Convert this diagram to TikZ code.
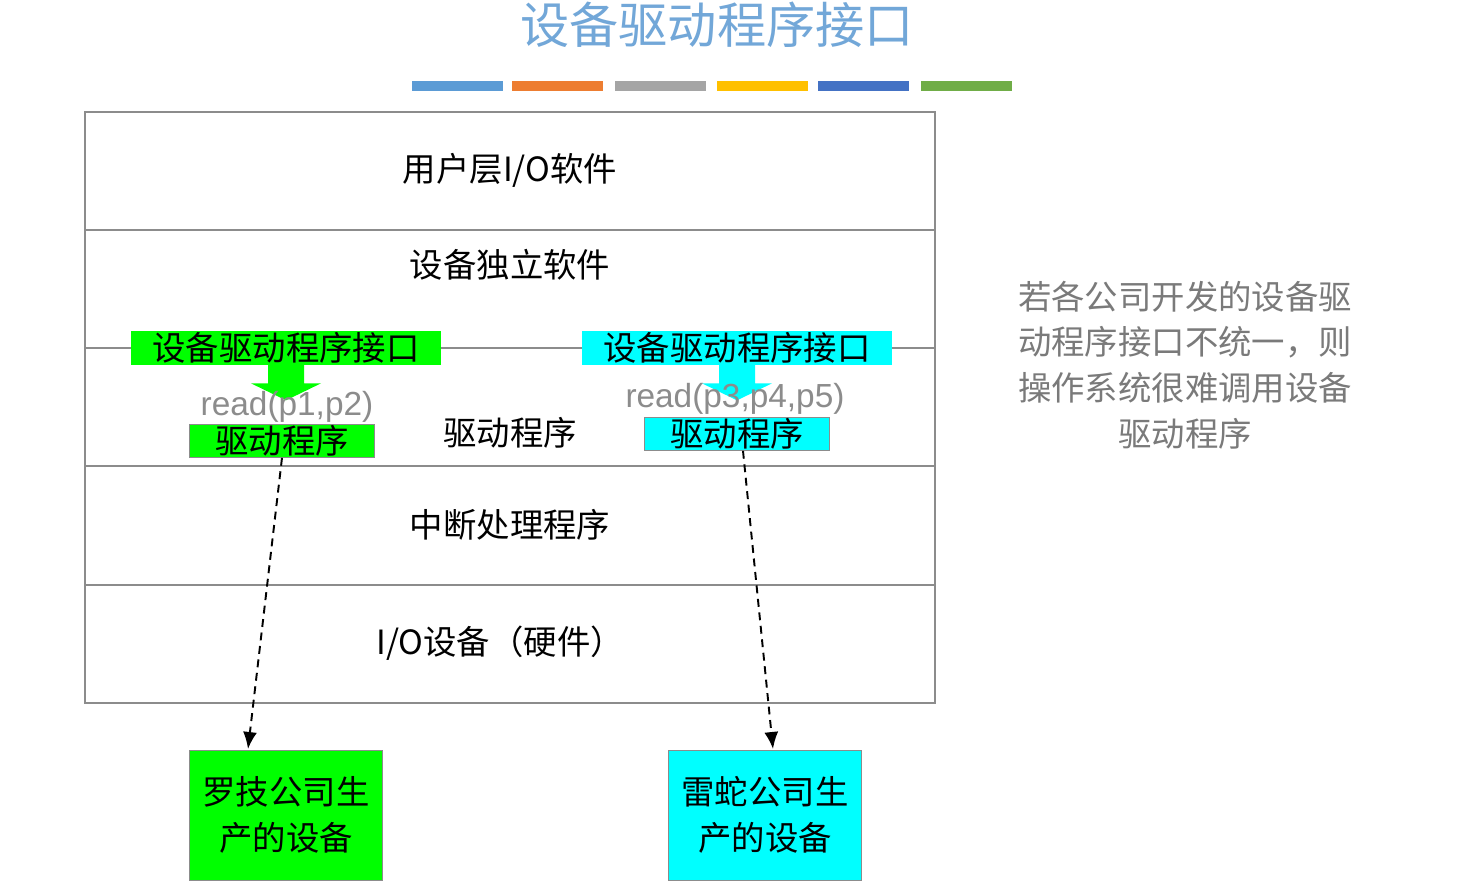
\documentclass[tikz,border=0pt]{standalone}
\usepackage{fontspec}
\setmainfont{Noto Sans CJK SC}
\newfontfamily\latinfont{Liberation Sans}
\usepackage{xcolor}
\usetikzlibrary{calc,positioning,arrows.meta}
\definecolor{titleblue}{HTML}{72A7D8}
\definecolor{barA}{HTML}{5B9BD5}
\definecolor{barB}{HTML}{ED7D31}
\definecolor{barC}{HTML}{A5A5A5}
\definecolor{barD}{HTML}{FFC000}
\definecolor{barE}{HTML}{4472C4}
\definecolor{barF}{HTML}{70AD47}
\definecolor{lgreen}{HTML}{00FF00}
\definecolor{lcyan}{HTML}{00FFFF}
\definecolor{framegray}{HTML}{8C8C8C}
\definecolor{notegray}{HTML}{7A7A7A}
\tikzset{%
	frame/.style  = {draw=framegray, line width=1pt},
	layer/.style  = {font=\fontsize{19}{23}\selectfont},
	iface/.style  = {minimum width=6.2cm, minimum height=0.68cm, inner sep=0pt, font=\fontsize{19}{23}\selectfont},
	drvbox/.style = {draw=framegray, minimum width=3.7cm, minimum height=0.66cm, inner sep=0pt, font=\fontsize{19}{23}\selectfont},
	devbox/.style = {draw=framegray, minimum width=3.86cm, minimum height=2.6cm, inner sep=0pt, align=center, font=\fontsize{19}{26}\selectfont},
	call/.style   = {text=framegray, inner sep=0pt, font=\latinfont\fontsize{19}{23}\selectfont},
	link/.style   = {dash pattern=on 4.5pt off 3.2pt, line width=1.1pt, -{Latex[length=0.34cm,width=0.28cm]}},
}
\newcommand{\blockarrow}[2]{% anchor, colour
	\fill[#2] ($(#1)+(-18,-2)$) -- ++(0,20) -- ++(-17,0) -- ($(#1)+(0,35)$) -- ($(#1)+(35,18)$) -- ++(-17,0) -- ++(0,-20) -- cycle;}

\begin{document}
\begin{tikzpicture}[x=0.02cm,y=-0.02cm]
		\useasboundingbox (0,0) rectangle (1472,892);
		\fill[white] (0,0) rectangle (1472,892);
		
		% title and colour bars
		\node[text=titleblue, font=\fontsize{28}{32}\selectfont] (title) at (717,25) {设备驱动程序接口};
		\foreach \x/\c in {412/barA,512/barB,615/barC,717/barD,818/barE,921/barF} \fill[\c] (\x,81) rectangle ++(91,10);
		
		% layers
		\draw[frame] (85,112) rectangle (935,703);
		\foreach \y in {230,348,466,585} \draw[frame] (85,\y) -- (935,\y);
		
		\node[layer] (user)  at (510,170) {用户层I/O软件};
		\node[layer] (indep) at (510,265) {设备独立软件};
		\node[layer] (drv)   at (510,433) {驱动程序};
		\node[layer] (intr)  at (510,525) {中断处理程序};
		\node[layer] (hw)    at (500,643) {I/O设备（硬件）};
		
		% left vendor
		\node[iface, fill=lgreen] (ifA) at (286,348) {设备驱动程序接口};
		\blockarrow{ifA.south}{lgreen}
		\node[call] (readA) at (287,407) {read(p1,p2)};
		\node[drvbox, fill=lgreen] (drvA) at (282,441) {驱动程序};
		\node[devbox, fill=lgreen] (devA) at (286,815) {罗技公司生\\产的设备};
		\coordinate (endA) at (248,749);
		\draw[link] (drvA.south) -- (endA);
		
		% right vendor
		\node[iface, fill=lcyan] (ifB) at (737,348) {设备驱动程序接口};
		\blockarrow{ifB.south}{lcyan}
		\node[call] (readB) at (735,399) {read(p3,p4,p5)};
		\node[drvbox, fill=lcyan] (drvB) at (737,434) {驱动程序};
		\node[devbox, fill=lcyan] (devB) at (765,815) {雷蛇公司生\\产的设备};
		\coordinate (endB) at (773,749);
		\draw[link] ($(drvB.south)+(6,0)$) -- (endB);
		
		% note
		\node[text=notegray, align=center, font=\fontsize{19}{26}\selectfont] (note) at (1185,365) {若各公司开发的设备驱\\动程序接口不统一，则\\操作系统很难调用设备\\驱动程序};
		
\end{tikzpicture}
\end{document}
